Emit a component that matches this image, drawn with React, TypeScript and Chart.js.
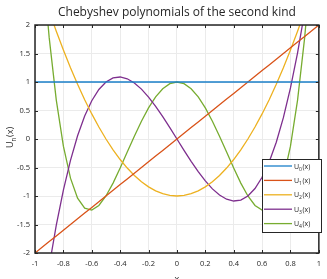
import React, { useEffect, useRef } from "react";
import { Chart, registerables } from "chart.js";
Chart.register(...registerables);

const titleText = "Chebyshev polynomials of the second kind";
const xs = [-1, -0.95, -0.9, -0.85, -0.8, -0.75, -0.7, -0.65, -0.6, -0.55, -0.5, -0.45, -0.4, -0.35, -0.3, -0.25, -0.2, -0.15, -0.1, -0.05, 0, 0.05, 0.1, 0.15, 0.2, 0.25, 0.3, 0.35, 0.4, 0.45, 0.5, 0.55, 0.6, 0.65, 0.7, 0.75, 0.8, 0.85, 0.9, 0.95, 1];
const u0 = [1, 1, 1, 1, 1, 1, 1, 1, 1, 1, 1, 1, 1, 1, 1, 1, 1, 1, 1, 1, 1, 1, 1, 1, 1, 1, 1, 1, 1, 1, 1, 1, 1, 1, 1, 1, 1, 1, 1, 1, 1];
const u1 = [-2, -1.9, -1.8, -1.7, -1.6, -1.5, -1.4, -1.3, -1.2, -1.1, -1, -0.9, -0.8, -0.7, -0.6, -0.5, -0.4, -0.3, -0.2, -0.1, 0, 0.1, 0.2, 0.3, 0.4, 0.5, 0.6, 0.7, 0.8, 0.9, 1, 1.1, 1.2, 1.3, 1.4, 1.5, 1.6, 1.7, 1.8, 1.9, 2];
const u2 = [3, 2.61, 2.24, 1.89, 1.56, 1.25, 0.96, 0.69, 0.44, 0.21, 0, -0.19, -0.36, -0.51, -0.64, -0.75, -0.84, -0.91, -0.96, -0.99, -1, -0.99, -0.96, -0.91, -0.84, -0.75, -0.64, -0.51, -0.36, -0.19, 0, 0.21, 0.44, 0.69, 0.96, 1.25, 1.56, 1.89, 2.24, 2.61, 3];
const u3 = [-4, -3.059, -2.232, -1.513, -0.896, -0.375, 0.056, 0.403, 0.672, 0.869, 1, 1.071, 1.088, 1.057, 0.984, 0.875, 0.736, 0.573, 0.392, 0.199, 0, -0.199, -0.392, -0.573, -0.736, -0.875, -0.984, -1.057, -1.088, -1.071, -1, -0.869, -0.672, -0.403, -0.056, 0.375, 0.896, 1.513, 2.232, 3.059, 4];
const u4 = [5, 3.2021, 1.7776, 0.6821, -0.1264, -0.6875, -1.0384, -1.2139, -1.2464, -1.1659, -1, -0.7739, -0.5104, -0.2299, 0.0496, 0.3125, 0.5456, 0.7381, 0.8816, 0.9701, 1, 0.9701, 0.8816, 0.7381, 0.5456, 0.3125, 0.0496, -0.2299, -0.5104, -0.7739, -1, -1.1659, -1.2464, -1.2139, -1.0384, -0.6875, -0.1264, 0.6821, 1.7776, 3.2021, 5];
const seriesSubs = ["0", "1", "2", "3", "4"];
const colors = ["#1a7fc9", "#d95319", "#edb120", "#7e2f8e", "#77ac30"];

const FONT = '"Open Sans", "Liberation Sans", sans-serif';
const TXT = "#262626";

function fmt(v: number) {
  const r = Math.round(v * 10) / 10;
  return String(r === 0 ? 0 : r);
}

function drawU(ctx: CanvasRenderingContext2D, x: number, y: number, sub: string, size: number) {
  ctx.font = `${size}px ${FONT}`;
  ctx.textBaseline = "alphabetic";
  ctx.textAlign = "left";
  ctx.fillText("U", x, y);
  let w = ctx.measureText("U").width;
  ctx.font = `${size * 0.72}px ${FONT}`;
  ctx.fillText(sub, x + w, y + size * 0.3);
  w += ctx.measureText(sub).width;
  ctx.font = `${size}px ${FONT}`;
  ctx.fillText("(x)", x + w + 0.5, y);
}

const decor = {
  id: "decor",
  afterDraw(chart: any) {
    const { ctx, chartArea: a, scales } = chart;
    const xS = scales.x;
    const yS = scales.y;
    ctx.save();
    ctx.strokeStyle = TXT;
    ctx.lineWidth = 1;
    ctx.beginPath();
    xS.ticks.forEach((t: any) => {
      const px = Math.round(xS.getPixelForValue(t.value)) + 0.5;
      ctx.moveTo(px, a.bottom);
      ctx.lineTo(px, a.bottom - 3);
      ctx.moveTo(px, a.top);
      ctx.lineTo(px, a.top + 3);
    });
    yS.ticks.forEach((t: any) => {
      const py = Math.round(yS.getPixelForValue(t.value)) + 0.5;
      ctx.moveTo(a.left, py);
      ctx.lineTo(a.left + 3, py);
      ctx.moveTo(a.right, py);
      ctx.lineTo(a.right - 3, py);
    });
    ctx.stroke();
    ctx.lineWidth = 1.5;
    ctx.strokeRect(a.left, a.top, a.right - a.left, a.bottom - a.top);
    ctx.fillStyle = TXT;
    ctx.font = `12px ${FONT}`;
    ctx.textAlign = "center";
    ctx.textBaseline = "middle";
    ctx.fillText(titleText, (a.left + a.right) / 2, 12.5);
    ctx.font = `9px ${FONT}`;
    ctx.textBaseline = "alphabetic";
    ctx.fillText("x", (a.left + a.right) / 2, 282);
    ctx.save();
    ctx.translate(13, (a.top + a.bottom) / 2 + 9);
    ctx.rotate(-Math.PI / 2);
    drawU(ctx, 0, 0, "n", 9);
    ctx.restore();
    const lx = 262, ly = 159, lw = 59, lh = 73;
    ctx.fillStyle = "#ffffff";
    ctx.fillRect(lx, ly, lw, lh);
    ctx.strokeStyle = TXT;
    ctx.lineWidth = 1;
    ctx.strokeRect(lx + 0.5, ly + 0.5, lw, lh);
    seriesSubs.forEach((s, i) => {
      const yy = ly + 7 + i * 14.4;
      ctx.strokeStyle = colors[i];
      ctx.lineWidth = 1.3;
      ctx.beginPath();
      ctx.moveTo(lx + 2, yy);
      ctx.lineTo(lx + 30, yy);
      ctx.stroke();
      ctx.fillStyle = TXT;
      drawU(ctx, lx + 32, yy + 2.5, s, 7);
    });
    ctx.restore();
  },
};

export default function App() {
  const ref = useRef<HTMLCanvasElement | null>(null);
  useEffect(() => {
    document.body.style.margin = "0";
    const names = ["U0", "U1", "U2", "U3", "U4"];
    const all = [u0, u1, u2, u3, u4];
    const chart = new Chart(ref.current as HTMLCanvasElement, {
      type: "line",
      data: {
        datasets: all.map((arr, i) => ({
          label: names[i],
          data: xs.map((x, j) => ({ x, y: arr[j] })),
          borderColor: colors[i],
          borderWidth: 1.3,
          pointRadius: 0,
          tension: 0,
          fill: false,
        })),
      },
      options: {
        responsive: false,
        animation: false,
        devicePixelRatio: 1,
        layout: { padding: { top: 25, right: 4, left: 0, bottom: 0 } },
        plugins: { legend: { display: false }, title: { display: false }, tooltip: { enabled: false } },
        scales: {
          x: {
            type: "linear",
            min: -1,
            max: 1,
            ticks: { stepSize: 0.2, padding: 6, color: TXT, font: { family: FONT, size: 7.5 }, maxRotation: 0, autoSkip: false, callback: (v: any) => fmt(Number(v)) },
            grid: { color: "#ebebeb", drawTicks: false },
            border: { display: false },
            afterFit: (s: any) => { s.height = 26; },
          },
          y: {
            type: "linear",
            min: -2,
            max: 2,
            ticks: { stepSize: 0.5, padding: 5, color: TXT, font: { family: FONT, size: 7.5 }, callback: (v: any) => fmt(Number(v)) },
            grid: { color: "#ebebeb", drawTicks: false },
            border: { display: false },
            afterFit: (s: any) => { s.width = 35; },
          },
        },
      },
      plugins: [decor],
    } as any);
    return () => chart.destroy();
  }, []);
  return (
    <div style={{ position: "absolute", left: 0, top: 0, width: 327, height: 279 }}>
      <canvas ref={ref} width={327} height={279} />
    </div>
  );
}
